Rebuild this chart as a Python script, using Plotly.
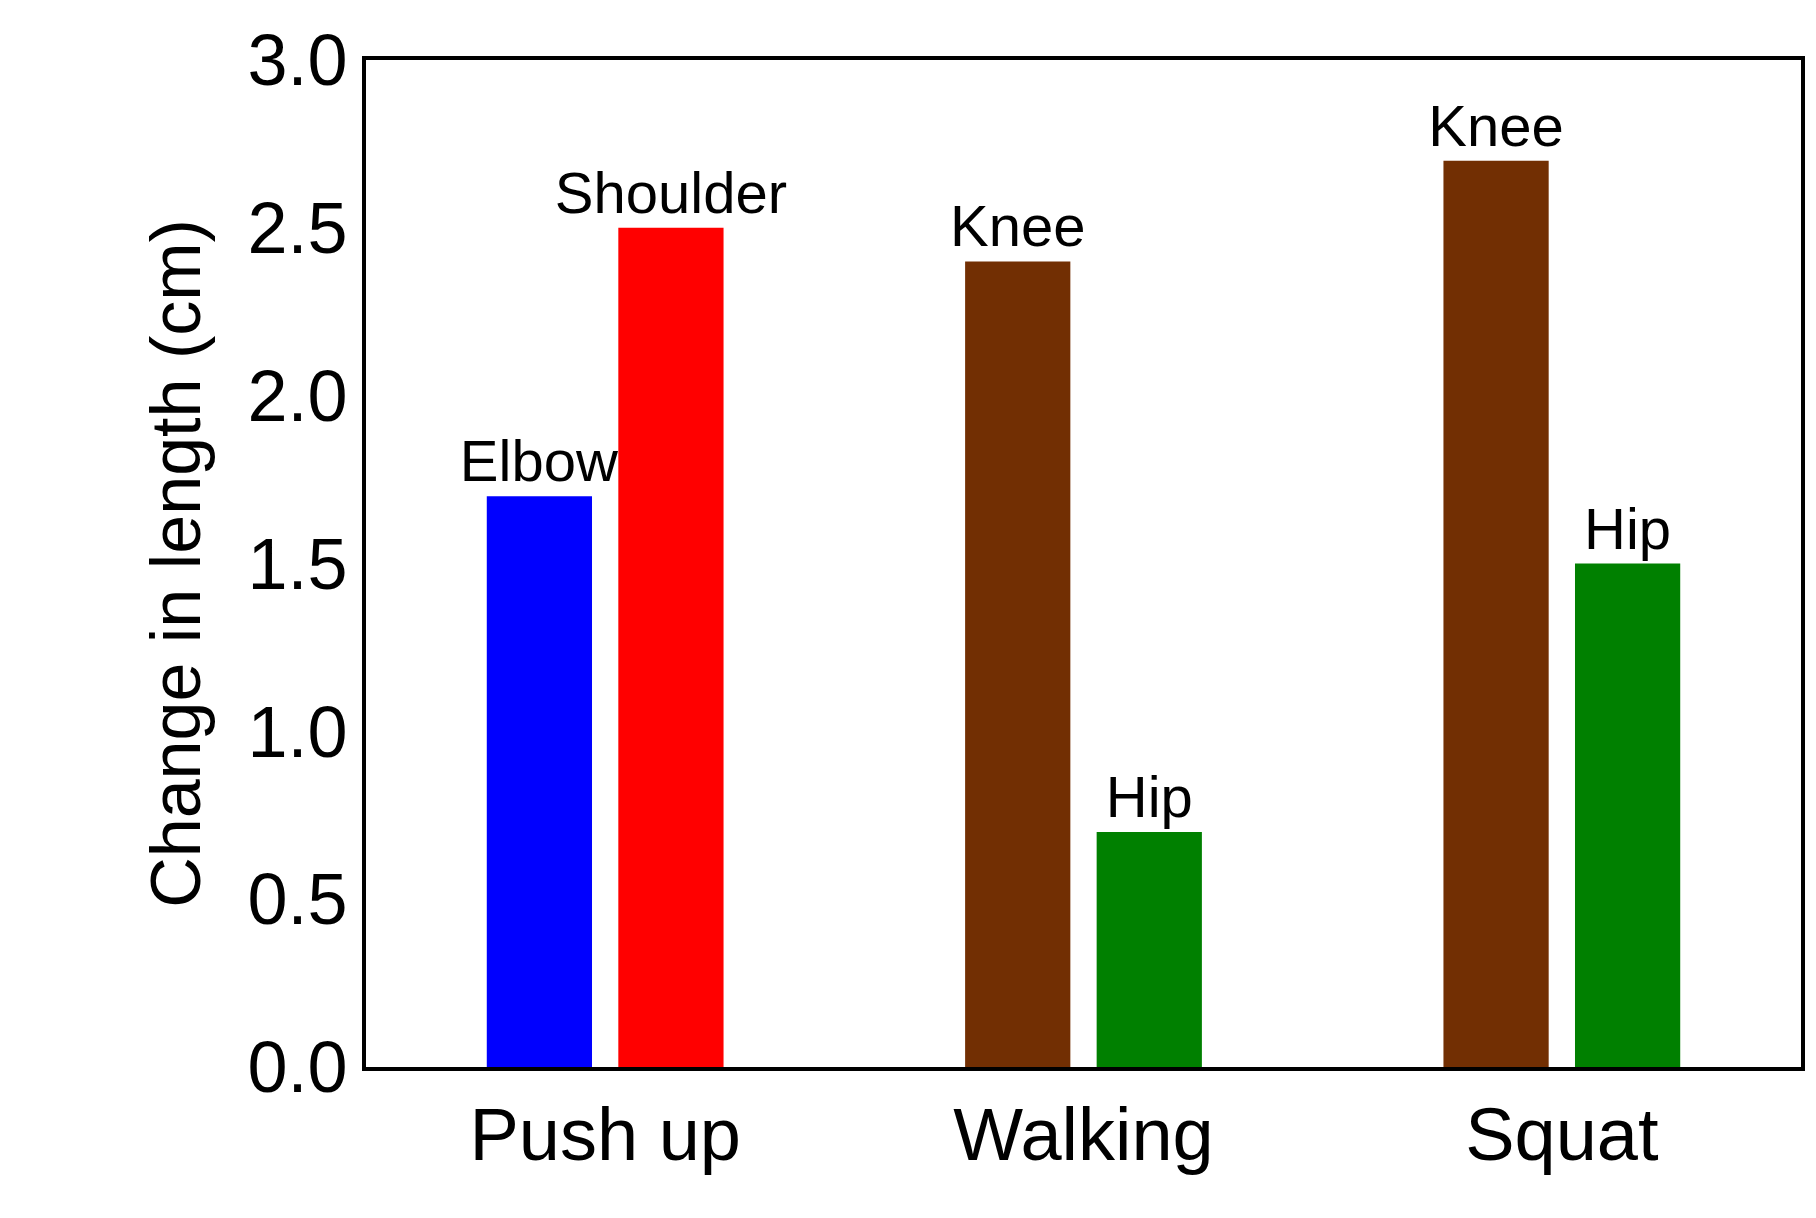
import plotly.graph_objects as go

activities = ["Push up", "Walking", "Squat"]
first_labels = ["Elbow", "Knee", "Knee"]
first_values = [1.7, 2.4, 2.7]
first_colors = ["#0000ff", "#722f03", "#722f03"]
second_labels = ["Shoulder", "Hip", "Hip"]
second_values = [2.5, 0.7, 1.5]
second_colors = ["#ff0000", "#008000", "#008000"]
y_ticks = [0.0, 0.5, 1.0, 1.5, 2.0, 2.5, 3.0]

font = "Liberation Sans, Arial, sans-serif"

fig = go.Figure()
for vals, labels, colors in [(first_values, first_labels, first_colors),
                             (second_values, second_labels, second_colors)]:
    fig.add_trace(go.Bar(
        x=activities, y=vals, text=labels, textposition="outside",
        textfont=dict(size=58, color="black", family=font),
        constraintext="none",
        marker=dict(color=colors, line=dict(width=0)),
        cliponaxis=False, showlegend=False,
    ))

fig.update_layout(
    width=1816, height=1218,
    margin=dict(l=358, r=23, t=50, b=159),
    barmode="group", bargap=0.45, bargroupgap=0.2,
    plot_bgcolor="white", paper_bgcolor="white",
    font=dict(family=font, color="black"),
)
fig.update_xaxes(
    showline=True, mirror=True, linecolor="black", linewidth=4,
    ticks="", tickfont=dict(size=74), range=[-0.5, 2.5],
)
fig.update_yaxes(
    range=[0, 3], tickvals=y_ticks, ticktext=[f"{v:.1f}" for v in y_ticks],
    showline=True, mirror=True, linecolor="black", linewidth=4,
    showgrid=False, zeroline=False, ticks="", tickfont=dict(size=72),
    title=dict(text="Change in length (cm)", font=dict(size=70), standoff=25),
)

fig.write_html("out.html")
